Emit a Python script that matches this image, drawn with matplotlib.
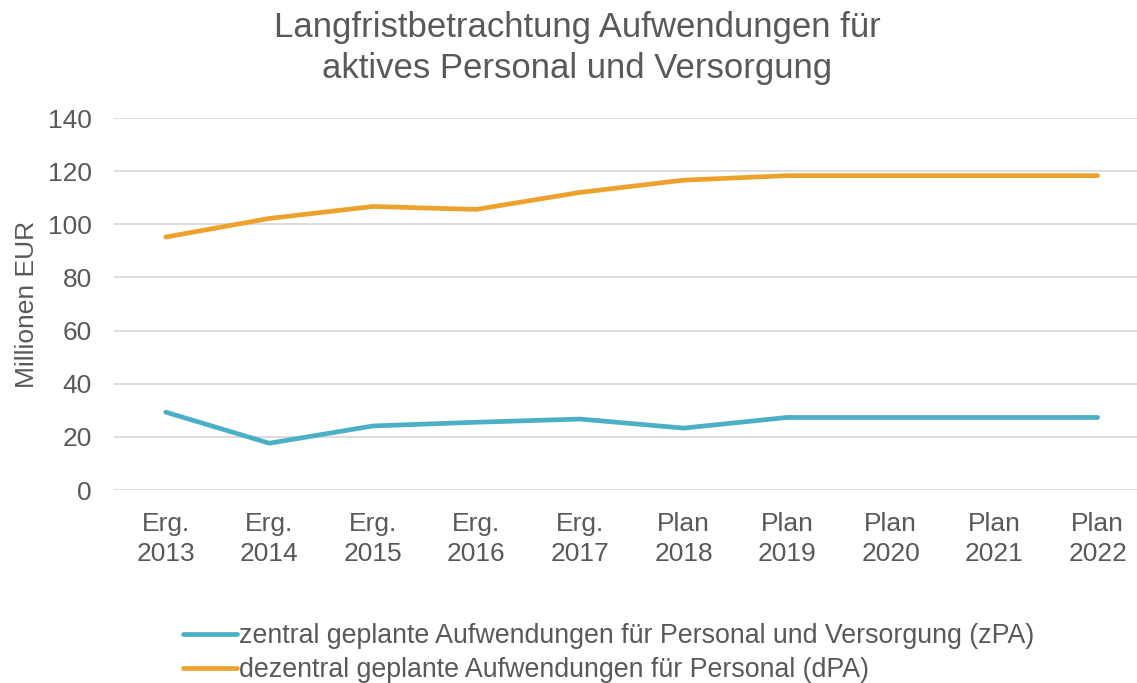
import numpy as np
import matplotlib.pyplot as plt

plt.rcParams['font.family'] = ['Liberation Sans', 'DejaVu Sans']

JAHRE = ['Erg.\n2013', 'Erg.\n2014', 'Erg.\n2015', 'Erg.\n2016', 'Erg.\n2017',
         'Plan\n2018', 'Plan\n2019', 'Plan\n2020', 'Plan\n2021', 'Plan\n2022']
ZPA = [29.3, 17.6, 24.1, 25.5, 26.7, 23.3, 27.3, 27.3, 27.3, 27.3]
DPA = [95.2, 102.2, 106.7, 105.6, 112.0, 116.6, 118.3, 118.3, 118.3, 118.3]

TEXT = '#595959'
BLAU = '#4BB0C6'
ORANGE = '#EDA22E'

fig = plt.figure(figsize=(11.37, 6.83), dpi=100)
ax = fig.add_axes([114/1137, 193/683, 1 - 114/1137, 372/683])

x = np.arange(len(JAHRE))
ax.plot(x, ZPA, color=BLAU, lw=3.4, solid_capstyle='round', solid_joinstyle='round',
        label='zentral geplante Aufwendungen für Personal und Versorgung (zPA)', zorder=3)
ax.plot(x, DPA, color=ORANGE, lw=3.4, solid_capstyle='round', solid_joinstyle='round',
        label='dezentral geplante Aufwendungen für Personal (dPA)', zorder=3)

ax.set_ylim(0, 140)
ax.set_yticks(range(0, 141, 20))
ax.set_xlim(-0.5, 9.38)
ax.set_xticks(x)
ax.set_xticklabels(JAHRE, linespacing=1.32)
ax.tick_params(axis='both', length=0, labelsize=19, colors=TEXT)
ax.tick_params(axis='x', pad=16)
ax.tick_params(axis='y', pad=16)
ax.grid(axis='y', color='#d9d9d9', lw=1.3)
ax.set_axisbelow(True)
for s in ax.spines.values():
    s.set_visible(False)

ax.set_ylabel('Millionen EUR', fontsize=19, color=TEXT, labelpad=6)

fig.text(577/1137, 1 - 48/683, 'Langfristbetrachtung Aufwendungen für\naktives Personal und Versorgung',
         ha='center', va='center', fontsize=25, color=TEXT, linespacing=1.3)

leg = fig.legend(loc='center left', bbox_to_anchor=(183/1137, 1 - 653/683), frameon=False,
                 fontsize=19.3, handlelength=2.0, handletextpad=0.1, labelspacing=0.3,
                 borderaxespad=0, borderpad=0)
for t in leg.get_texts():
    t.set_color(TEXT)

fig.savefig('out.png', dpi=100)
